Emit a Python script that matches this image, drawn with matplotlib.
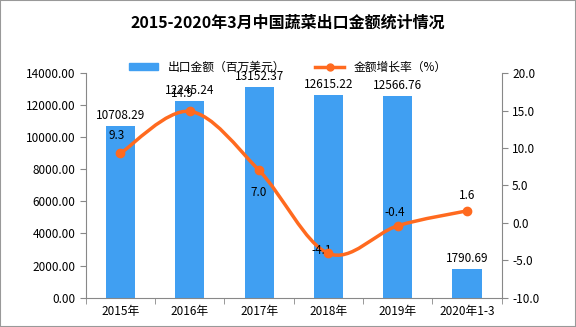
import matplotlib
matplotlib.use("Agg")
import matplotlib.pyplot as plt
from matplotlib.path import Path
from matplotlib.patches import PathPatch, Rectangle
from matplotlib.lines import Line2D
import numpy as np

plt.rcParams["font.family"] = ["Noto Sans CJK SC", "DejaVu Sans"]

# data
years = ["2015年", "2016年", "2017年", "2018年", "2019年", "2020年1-3"]
export_value = [10708.29, 12245.24, 13152.37, 12615.22, 12566.76, 1790.69]
growth_rate = [9.3, 14.9, 7.0, -4.1, -0.4, 1.6]

left_ticks = [0, 2000, 4000, 6000, 8000, 10000, 12000, 14000]
right_ticks = [-10, -5, 0, 5, 10, 15, 20]

bar_color = "#409ff2"
line_color = "#ff6a1f"
axis_color = "#888888"
fs = 8.5

fig = plt.figure(figsize=(5.76, 3.27), dpi=100)
ax = fig.add_axes([0.149, 0.09, 0.722, 0.686])
ax2 = ax.twinx()

x = np.arange(len(years))

# bars
ax.bar(x, export_value, width=0.42, color=bar_color, zorder=2)
for xi, v in zip(x, export_value):
    ax.text(xi, v + 250, f"{v:.2f}", ha="center", va="bottom", fontsize=fs)

ax.set_xlim(-0.5, len(years) - 0.5)
ax.set_ylim(0, 14000)
ax.set_yticks(left_ticks)
ax.set_yticklabels([f"{t:.2f}" for t in left_ticks], fontsize=fs)
ax.set_xticks(x)
ax.set_xticklabels(years, fontsize=fs)
ax.set_xticks(np.arange(len(years) + 1) - 0.5, minor=True)
ax.tick_params(axis="x", which="major", length=0, pad=5)
ax.tick_params(axis="x", which="minor", length=4, color=axis_color)
ax.tick_params(axis="y", length=4, color=axis_color)

# smoothed growth line (bezier through the points)
pts = np.column_stack([x, growth_rate]).astype(float)
verts = [pts[0]]
codes = [Path.MOVETO]
n = len(pts)
for i in range(n - 1):
    p0 = pts[max(i - 1, 0)]
    p1 = pts[i]
    p2 = pts[i + 1]
    p3 = pts[min(i + 2, n - 1)]
    c1 = p1 + (p2 - p0) / 6
    c2 = p2 - (p3 - p1) / 6
    verts += [c1, c2, p2]
    codes += [Path.CURVE4] * 3
ax2.add_patch(PathPatch(Path(verts, codes), facecolor="none",
                        edgecolor=line_color, lw=2.5, zorder=3))
ax2.plot(x, growth_rate, "o", color=line_color, ms=6, zorder=4)

# label offsets in (category, percent)
label_offsets = [(-0.05, 2.4), (-0.1, 2.4), (0.0, -3.0), (-0.1, 0.4), (-0.05, 1.8), (0.0, 2.0)]
for xi, v, (dx, dy) in zip(x, growth_rate, label_offsets):
    ax2.text(xi + dx, v + dy, f"{v:.1f}", ha="center", va="center", fontsize=fs)

ax2.set_ylim(-10, 20)
ax2.set_yticks(right_ticks)
ax2.set_yticklabels([f"{t:.1f}" for t in right_ticks], fontsize=fs)
ax2.tick_params(axis="y", length=4, color=axis_color)

for a in (ax, ax2):
    a.spines["top"].set_visible(False)
    for s in ("left", "right", "bottom"):
        a.spines[s].set_color(axis_color)
ax.spines["right"].set_visible(False)
ax2.spines["left"].set_visible(False)
ax2.spines["bottom"].set_visible(False)

fig.text(0.5, 0.932, "2015-2020年3月中国蔬菜出口金额统计情况",
         ha="center", va="center", fontsize=11.5, fontweight="bold")

handles = [
    Rectangle((0, 0), 1, 1, color=bar_color),
    Line2D([], [], color=line_color, lw=2.5, marker="o", ms=5),
]
fig.legend(handles, ["出口金额（百万美元）", "金额增长率（%）"],
           loc="center", bbox_to_anchor=(0.5, 0.795), ncol=2, frameon=False,
           fontsize=fs, handlelength=2.5, columnspacing=2.5, handleheight=0.6)

fig.patches.append(Rectangle((0, 0), 1, 1, transform=fig.transFigure,
                             fill=False, edgecolor="#999999", lw=1.5))

plt.savefig("out.png", dpi=100)
plt.close()
